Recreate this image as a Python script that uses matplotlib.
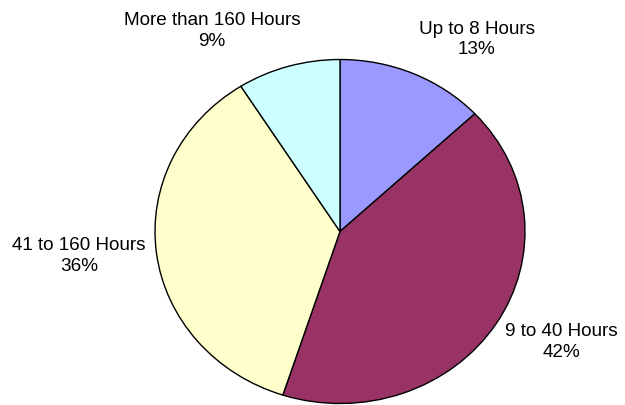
import matplotlib
matplotlib.use("Agg")
import matplotlib.pyplot as plt

categories = ["Up to 8 Hours", "9 to 40 Hours", "41 to 160 Hours", "More than 160 Hours"]
values = [13, 42, 36, 9]
colors = ["#9999FF", "#993366", "#FFFFCC", "#CCFFFF"]
# label anchor positions (pie-radius units) - layout
label_pos = [(0.74, 1.116), (1.195, -0.645), (-1.41, -0.14), (-0.692, 1.166)]

plt.rcParams['font.family'] = ['Liberation Sans', 'DejaVu Sans']

fig = plt.figure(figsize=(6.25, 4.05), dpi=100)
ax = fig.add_axes([155/625, 1.5/405, 370/625, 344/405])
ax.pie(values, colors=colors, startangle=90, counterclock=False,
       wedgeprops=dict(edgecolor="black", linewidth=1.0))
ax.set_aspect('auto')
ax.set_xlim(-1, 1)
ax.set_ylim(-1, 1)
ax.axis('off')

total = sum(values)
for cat, v, (lx, ly) in zip(categories, values, label_pos):
    ax.text(lx, ly, f"{cat}\n{round(100*v/total)}%", ha='center', va='center',
            fontsize=13.6, color='black', linespacing=1.3, clip_on=False)

fig.savefig("out.png", dpi=100)
